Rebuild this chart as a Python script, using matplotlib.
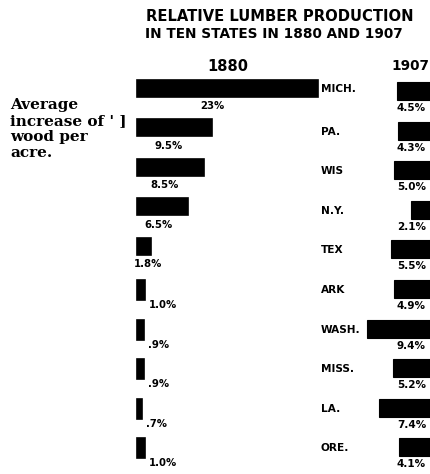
import matplotlib
matplotlib.use("Agg")
import matplotlib.pyplot as plt

# ---- data ----
states = ["MICH.", "PA.", "WIS", "N.Y.", "TEX", "ARK", "WASH.", "MISS.", "LA.", "ORE."]
pct_1880 = [23.0, 9.5, 8.5, 6.5, 1.8, 1.0, 0.9, 0.9, 0.7, 1.0]
pct_1907 = [4.5, 4.3, 5.0, 2.1, 5.5, 4.9, 9.4, 5.2, 7.4, 4.1]
years = ["1880", "1907"]
title_lines = ["RELATIVE LUMBER PRODUCTION", "IN TEN STATES IN 1880 AND 1907"]
side_note = ["Average", "increase of ' ]", "wood per", "acre."]


def fmt(v):
    if v >= 10:
        return f"{v:.0f}%"
    s = f"{v:.1f}%"
    return s[1:] if s.startswith("0") else s


W, H = 431, 474
fig = plt.figure(figsize=(W / 100, H / 100), dpi=100)
ax = fig.add_axes([0, 0, 1, 1])
ax.set_xlim(0, W)
ax.set_ylim(H, 0)
ax.axis("off")

# layout (pixel space of the page)
row0, pitch = 88, 39.6
rows = [row0 + pitch * i for i in range(len(states))]
left_1880 = 137
scale_1880 = 7.85
center_1907 = 424
scale_1907 = 12.08

sans = "DejaVu Sans"

# title
ax.text(146, 16, title_lines[0], fontsize=10.6, fontweight="bold", family=sans,
        ha="left", va="center")
ax.text(145, 34, title_lines[1], fontsize=9.8, fontweight="bold", family=sans,
        ha="left", va="center")

# year headers
ax.text(228, 66, years[0], fontsize=10.5, fontweight="bold", family=sans, ha="center", va="center")
ax.text(429, 66, years[1], fontsize=9.8, fontweight="bold", family=sans, ha="right", va="center")

# side note
for i, line in enumerate(side_note):
    ax.text(10, 105 + 16 * i, line, fontsize=11, fontweight="bold", family="DejaVu Serif",
            ha="left", va="center")

# 1880 bars
for y, v in zip(rows, pct_1880):
    w = v * scale_1880
    small = v < 1.5
    h = 20 if small else 17
    yc = y + 4 if small else y
    ax.barh(yc, w, left=left_1880, height=h, color="black", edgecolor="black", linewidth=1.2)
    if small:
        ax.text(left_1880 + w + 4, y + 19, fmt(v), fontsize=7.3, fontweight="bold", family=sans,
                ha="left", va="center")
    else:
        xc = max(left_1880 + w * 0.42, 148)
        ax.text(xc, y + 18, fmt(v), fontsize=7.3, fontweight="bold", family=sans,
                ha="center", va="center")

# state labels
for i, (y, s) in enumerate(zip(rows, states)):
    ax.text(321, y + (1 if i == 0 else 4), s, fontsize=7.6, fontweight="bold", family=sans,
            ha="left", va="center")

# 1907 bars (cropped at right edge)
for y, v in zip(rows, pct_1907):
    half = v * scale_1907 / 2
    ax.barh(y + 3, 2 * half, left=center_1907 - half, height=18, color="black",
            edgecolor="black", linewidth=0.8)
    ax.text(397, y + 20, fmt(v), fontsize=7.5, fontweight="bold", family=sans,
            ha="left", va="center")

fig.savefig("out.png", dpi=100, facecolor="white")
